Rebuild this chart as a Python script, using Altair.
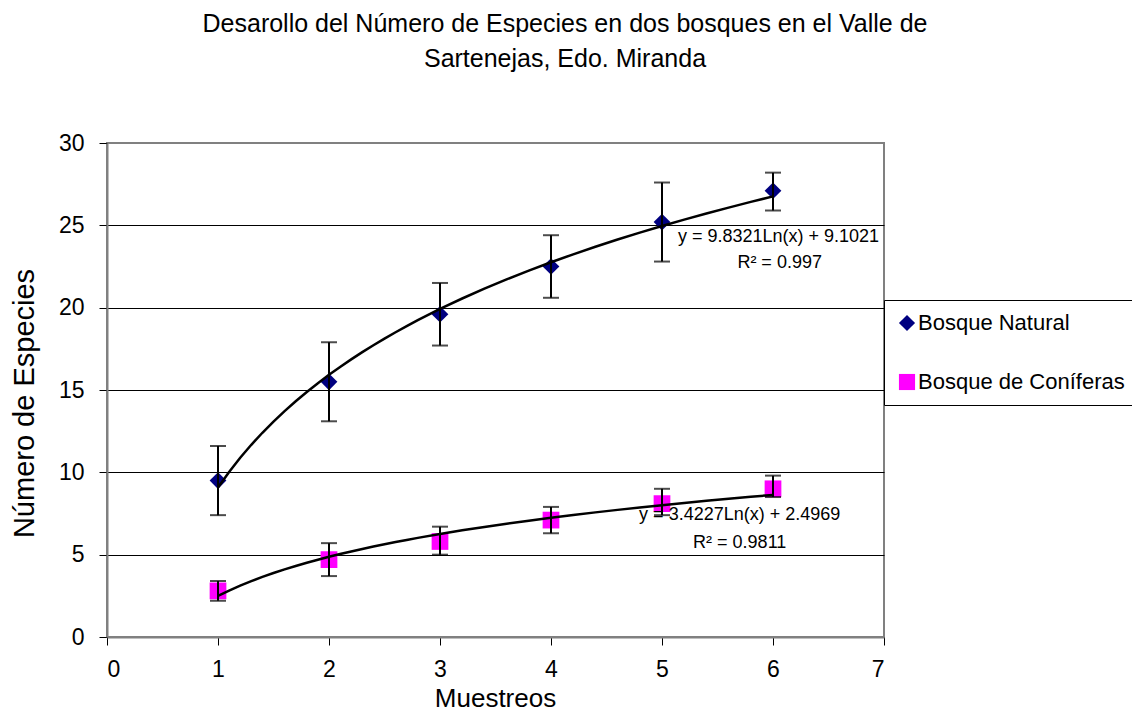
import altair as alt
import pandas as pd

# ---------------- data ----------------
muestreos = [1, 2, 3, 4, 5, 6]
natural = [9.5, 15.5, 19.6, 22.5, 25.2, 27.1]
natural_hi = [11.6, 17.9, 21.5, 24.4, 27.6, 28.2]
natural_lo = [7.4, 13.1, 17.7, 20.6, 22.8, 25.9]
coniferas = [2.8, 4.7, 5.8, 7.1, 8.1, 9.0]
coniferas_hi = [3.4, 5.7, 6.7, 7.9, 9.0, 9.8]
coniferas_lo = [2.2, 3.7, 5.0, 6.3, 7.4, 8.5]

series_names = ["Bosque Natural", "Bosque de Coníferas"]
series_colors = ["#000080", "#FF00FF"]
series_shapes = ["diamond", "square"]

eq_text = ["y = 9.8321Ln(x) + 9.1021", "R² = 0.997",
           "y = 3.4227Ln(x) + 2.4969", "R² = 0.9811"]
eq_x = [6.05, 6.06, 5.70, 5.70]
eq_y = [24.3, 22.7, 7.4, 5.7]

title_lines = ["Desarollo del Número de Especies en dos bosques en el Valle de",
               "Sartenejas, Edo. Miranda"]
x_ticks = [0, 1, 2, 3, 4, 5, 6, 7]
y_ticks = [0, 5, 10, 15, 20, 25, 30]

FONT = "Liberation Sans"

rows = []
for i, m in enumerate(muestreos):
    rows.append({"x": m, "y": natural[i], "hi": natural_hi[i], "lo": natural_lo[i], "series": series_names[0]})
for i, m in enumerate(muestreos):
    rows.append({"x": m, "y": coniferas[i], "hi": coniferas_hi[i], "lo": coniferas_lo[i], "series": series_names[1]})
df = pd.DataFrame(rows)

eq_df = pd.DataFrame({"x": eq_x, "y": eq_y, "text": eq_text})
title_df = pd.DataFrame({"text": title_lines, "line": [0, 1]})

xscale = alt.Scale(domain=[0, 7], nice=False, zero=False)
yscale = alt.Scale(domain=[0, 30], nice=False)

x_axis = alt.Axis(values=x_ticks, format="d", grid=False, domainColor="#808080", domainWidth=2,
                  tickColor="#000000", tickSize=8, tickWidth=1,
                  labelFont=FONT, labelFontSize=23, labelColor="#000000", labelPadding=13,
                  title="Muestreos", titleFont=FONT, titleFontSize=26, titleFontWeight="normal",
                  titleColor="#000000", titleX=388, titleY=69, titleBaseline="alphabetic",
                  titleAlign="center")
y_axis = alt.Axis(values=y_ticks, format="d", grid=True, gridColor="#000000", gridWidth=1,
                  gridOpacity={"condition": {"test": "datum.value === 0 || datum.value === 30", "value": 0}, "value": 1},
                  domainColor="#808080", domainWidth=2,
                  tickColor="#000000", tickSize=8, tickWidth=1,
                  labelFont=FONT, labelFontSize=23, labelColor="#000000", labelPadding=15,
                  title="Número de Especies", titleFont=FONT, titleFontSize=29, titleFontWeight="normal",
                  titleColor="#000000", titleAngle=270, titleX=-83, titleY=260,
                  titleAlign="center", titleBaseline="middle")

X = alt.X("x:Q", scale=xscale, axis=x_axis)
Y = alt.Y("y:Q", scale=yscale, axis=y_axis)

legend = alt.Legend(orient="none", legendX=777, legendY=157, title=None,
                    strokeColor="#000000", fillColor="#FFFFFF", padding=12,
                    labelFont=FONT, labelFontSize=22, labelColor="#000000", labelLimit=400,
                    symbolSize=260, symbolStrokeWidth=0, rowPadding=37, labelOffset=0)

points = alt.Chart(df).mark_point(filled=True, size=280, opacity=1).encode(
    x=X, y=Y,
    color=alt.Color("series:N", scale=alt.Scale(domain=series_names, range=series_colors),
                    legend=legend, sort=series_names),
    shape=alt.Shape("series:N", scale=alt.Scale(domain=series_names, range=series_shapes),
                    legend=legend, sort=series_names),
)

err = alt.Chart(df).mark_rule(color="#000000", strokeWidth=2).encode(
    x=alt.X("x:Q", scale=xscale), y=alt.Y("lo:Q", scale=yscale), y2="hi:Q")
cap_hi = alt.Chart(df).mark_tick(color="#000000", orient="horizontal", size=16, thickness=2).encode(
    x=alt.X("x:Q", scale=xscale), y=alt.Y("hi:Q", scale=yscale))
cap_lo = alt.Chart(df).mark_tick(color="#000000", orient="horizontal", size=16, thickness=2).encode(
    x=alt.X("x:Q", scale=xscale), y=alt.Y("lo:Q", scale=yscale))

trend = alt.Chart(df).transform_regression(
    "x", "y", method="log", groupby=["series"], extent=[1, 6]
).mark_line(color="#000000", strokeWidth=2.5).encode(
    x=alt.X("x:Q", scale=xscale), y=alt.Y("y:Q", scale=yscale), detail="series:N")

eqs = alt.Chart(eq_df).mark_text(font=FONT, fontSize=18, color="#000000", align="center",
                                 baseline="middle").encode(
    x=alt.X("x:Q", scale=xscale), y=alt.Y("y:Q", scale=yscale), text="text:N")

title1 = alt.Chart(title_df).transform_filter("datum.line === 0").mark_text(
    font=FONT, fontSize=25, color="#000000", align="center", baseline="alphabetic"
).encode(x=alt.value(458), y=alt.value(-111), text="text:N")
title2 = alt.Chart(title_df).transform_filter("datum.line === 1").mark_text(
    font=FONT, fontSize=25, color="#000000", align="center", baseline="alphabetic"
).encode(x=alt.value(458), y=alt.value(-76), text="text:N")

chart = alt.layer(points, err, cap_hi, cap_lo, trend, eqs, title1, title2).properties(
    width=777, height=494,
    autosize=alt.AutoSizeParams(type="none"),
    padding={"left": 99, "top": 135, "right": 248, "bottom": 74},
    background="#FFFFFF",
).configure_view(stroke="#808080", strokeWidth=2)

chart.save("out.html", embed_options={"renderer": "svg", "actions": False})
